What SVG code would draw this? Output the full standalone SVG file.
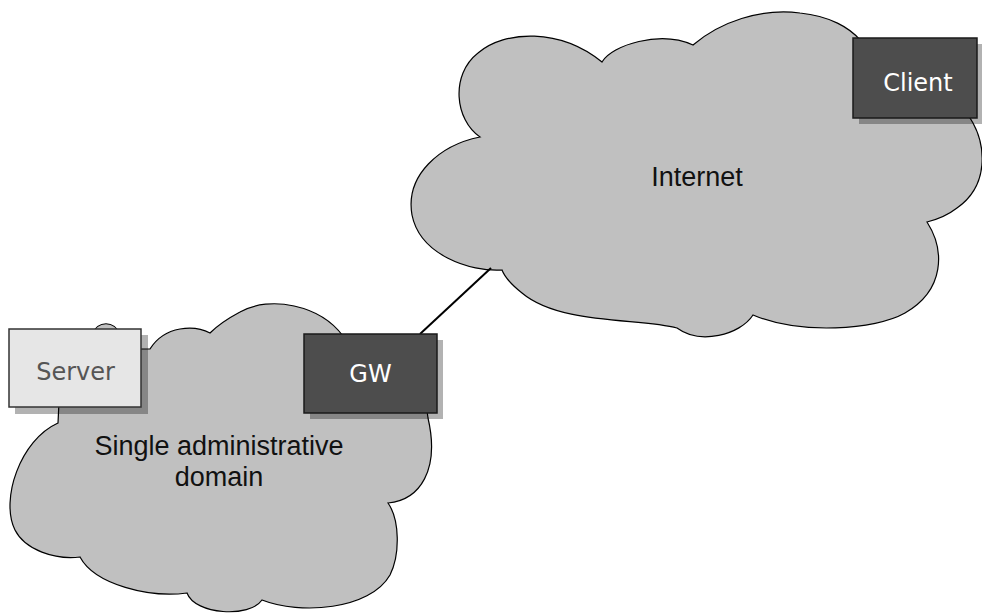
<svg xmlns="http://www.w3.org/2000/svg" width="982" height="614" viewBox="0 0 982 614">
<style>
.cloud{fill:#c0c0c0;stroke:#000;stroke-width:1.2}
.shadow{fill:#000;fill-opacity:0.3}
.dark{fill:#4d4d4d;stroke:#1a1a1a;stroke-width:1.5}
.light{fill:#e6e6e6;stroke:#333;stroke-width:1.5}
.ctext{font-family:"Liberation Sans",Arial,sans-serif;font-size:27px;fill:#111;text-anchor:middle}
.btext{font-family:"DejaVu Sans",Verdana,sans-serif;font-size:24px;text-anchor:middle}
.conn{stroke:#000;stroke-width:2;fill:none}
</style>
<rect width="982" height="614" fill="#fff"/>
<g id="internet">
<path class="cloud" d="M480,137 C455,120 450,75 478,53 C505,30 560,28 602,62 C612,45 660,30 693,45 C720,22 760,8 800,13 C830,16 850,28 860,40 L970,118 L973,123 C985,145 990,185 957,208 C948,215 935,220 927,222 C945,250 945,290 905,313 C875,330 800,335 753,315 C740,335 700,345 677,328 C640,318 560,325 522,293 C512,285 505,278 502,270 C470,272 420,255 412,215 C405,175 440,145 480,137 Z"/>
<text class="ctext" x="697" y="186">Internet</text>
</g>
<g id="domain">
<path class="cloud" d="M60,380 L58,423 C20,440 0,500 15,530 C25,550 55,560 80,557 C95,585 150,598 187,593 C195,615 250,618 262,600 C300,615 370,610 390,575 C400,555 400,520 388,503 C420,500 440,470 428,418 L420,360 L343,336 C320,305 270,295 240,312 C225,320 215,328 210,333 C195,325 165,325 150,349 L140,349 L120,335 C115,320 97,320 92,335 Z"/>
<text class="ctext" x="219" y="455">Single administrative</text>
<text class="ctext" x="219" y="486">domain</text>
</g>
<g id="connectors">
<line class="conn" x1="420" y1="334" x2="491" y2="268"/>
</g>
<g id="server">
<rect class="shadow" x="15" y="335" width="133" height="79"/>
<rect class="light" x="9" y="329" width="132" height="78"/>
<text class="btext" x="75.5" y="380" fill="#555">Server</text>
</g>
<g id="gw">
<rect class="shadow" x="310" y="340" width="133" height="79"/>
<rect class="dark" x="304" y="334" width="133" height="79"/>
<text class="btext" x="370.5" y="382" fill="#fff">GW</text>
</g>
<g id="client">
<rect class="shadow" x="859" y="44" width="123" height="80"/>
<rect class="dark" x="853" y="38" width="124" height="80"/>
<text class="btext" x="918" y="91" fill="#fff">Client</text>
</g>
</svg>
